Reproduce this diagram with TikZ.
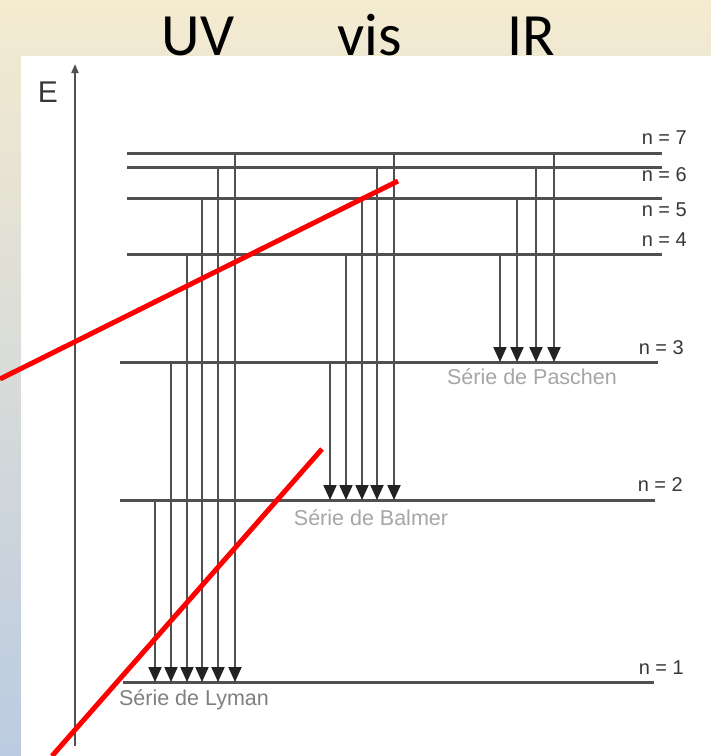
\documentclass[tikz,border=0pt]{standalone}
\usepackage{fontspec}
\setmainfont{Liberation Sans}
\newfontfamily\titlefont{Carlito}
\usetikzlibrary{arrows.meta}
\definecolor{bgtop}{HTML}{F4EBD0}
\definecolor{bgbot}{HTML}{BBCBE1}
\definecolor{lvl}{HTML}{505050}
\definecolor{lbl}{HTML}{383838}
\definecolor{tipc}{HTML}{222222}
\tikzset{
  level/.style={draw=lvl, line width=3pt},
  trans/.style={draw=lvl, line width=2pt, -{Triangle[length=15pt,width=13pt,color=tipc]}, shorten >=-1pt},
  nlab/.style={anchor=east, text=lbl, font=\fontsize{20}{22}\selectfont, inner sep=0pt},
  serie/.style={text=#1, font=\fontsize{21.5}{24}\selectfont, inner sep=0pt},
  ttl/.style={anchor=base, font=\titlefont\fontsize{60}{70}\selectfont, inner sep=0pt},
  redline/.style={draw=red, line width=5pt}
}
\begin{document}
\begin{tikzpicture}[x=1pt, y=-1pt]
\useasboundingbox (0,0) rectangle (711,756);
\shade[top color=bgtop, bottom color=bgbot] (0,0) rectangle (711,756);
\fill[white] (21,56) rectangle (711,756);
% title
\node[ttl] (uv) at (198,55) {UV};
\node[ttl] (vis) at (370,55) {vis};
\node[ttl] (ir) at (531,55) {IR};
% energy axis
\coordinate (ebot) at (75,746);
\coordinate (etop) at (75,64);
\draw[draw=lvl, line width=2pt, -{Triangle[length=9pt,width=7pt]}] (ebot) -- (etop);
\node[text=lbl, font=\fontsize{30}{32}\selectfont, inner sep=0pt] (E) at (48,92) {E};
% levels
\draw[level] (127,153) coordinate (l7a) -- (662,153) coordinate (l7b);
\draw[level] (127,167) coordinate (l6a) -- (662,167) coordinate (l6b);
\draw[level] (127,198) coordinate (l5a) -- (662,198) coordinate (l5b);
\draw[level] (127,254) coordinate (l4a) -- (662,254) coordinate (l4b);
\draw[level] (120,362) coordinate (l3a) -- (658,362) coordinate (l3b);
\draw[level] (120,500) coordinate (l2a) -- (655,500) coordinate (l2b);
\draw[level] (123,682) coordinate (l1a) -- (654,682) coordinate (l1b);
% level labels
\node[nlab] (n7) at (687,138) {n = 7};
\node[nlab] (n6) at (687,175) {n = 6};
\node[nlab] (n5) at (687,210) {n = 5};
\node[nlab] (n4) at (687,240) {n = 4};
\node[nlab] (n3) at (684,348) {n = 3};
\node[nlab] (n2) at (683,485) {n = 2};
\node[nlab] (n1) at (684,668) {n = 1};
% Lyman
\foreach \x/\y [count=\i] in {155/500,171/362,187/254,202/198,218/167,235/153}{
  \coordinate (ly\i s) at (\x,\y);
  \coordinate (ly\i e) at (\x,681);
  \draw[trans] (ly\i s) -- (ly\i e);
}
% Balmer
\foreach \x/\y [count=\i] in {330/362,346/254,362/198,377/167,394/153}{
  \coordinate (ba\i s) at (\x,\y);
  \coordinate (ba\i e) at (\x,499);
  \draw[trans] (ba\i s) -- (ba\i e);
}
% Paschen
\foreach \x/\y [count=\i] in {500/254,517/198,536/167,554/153}{
  \coordinate (pa\i s) at (\x,\y);
  \coordinate (pa\i e) at (\x,361);
  \draw[trans] (pa\i s) -- (pa\i e);
}
% series labels
\node[serie=black!35] (paschen) at (532,377) {Série de Paschen};
\node[serie=black!35] (balmer) at (371,518) {Série de Balmer};
\node[serie=black!50] (lyman) at (194,700) {Série de Lyman};
% red lines
\coordinate (r1a) at (0,379);
\coordinate (r1b) at (398,181);
\coordinate (r2a) at (322,449);
\coordinate (r2b) at (52,756);
\draw[redline] (r1a) -- (r1b);
\draw[redline] (r2a) -- (r2b);
\end{tikzpicture}
\end{document}
